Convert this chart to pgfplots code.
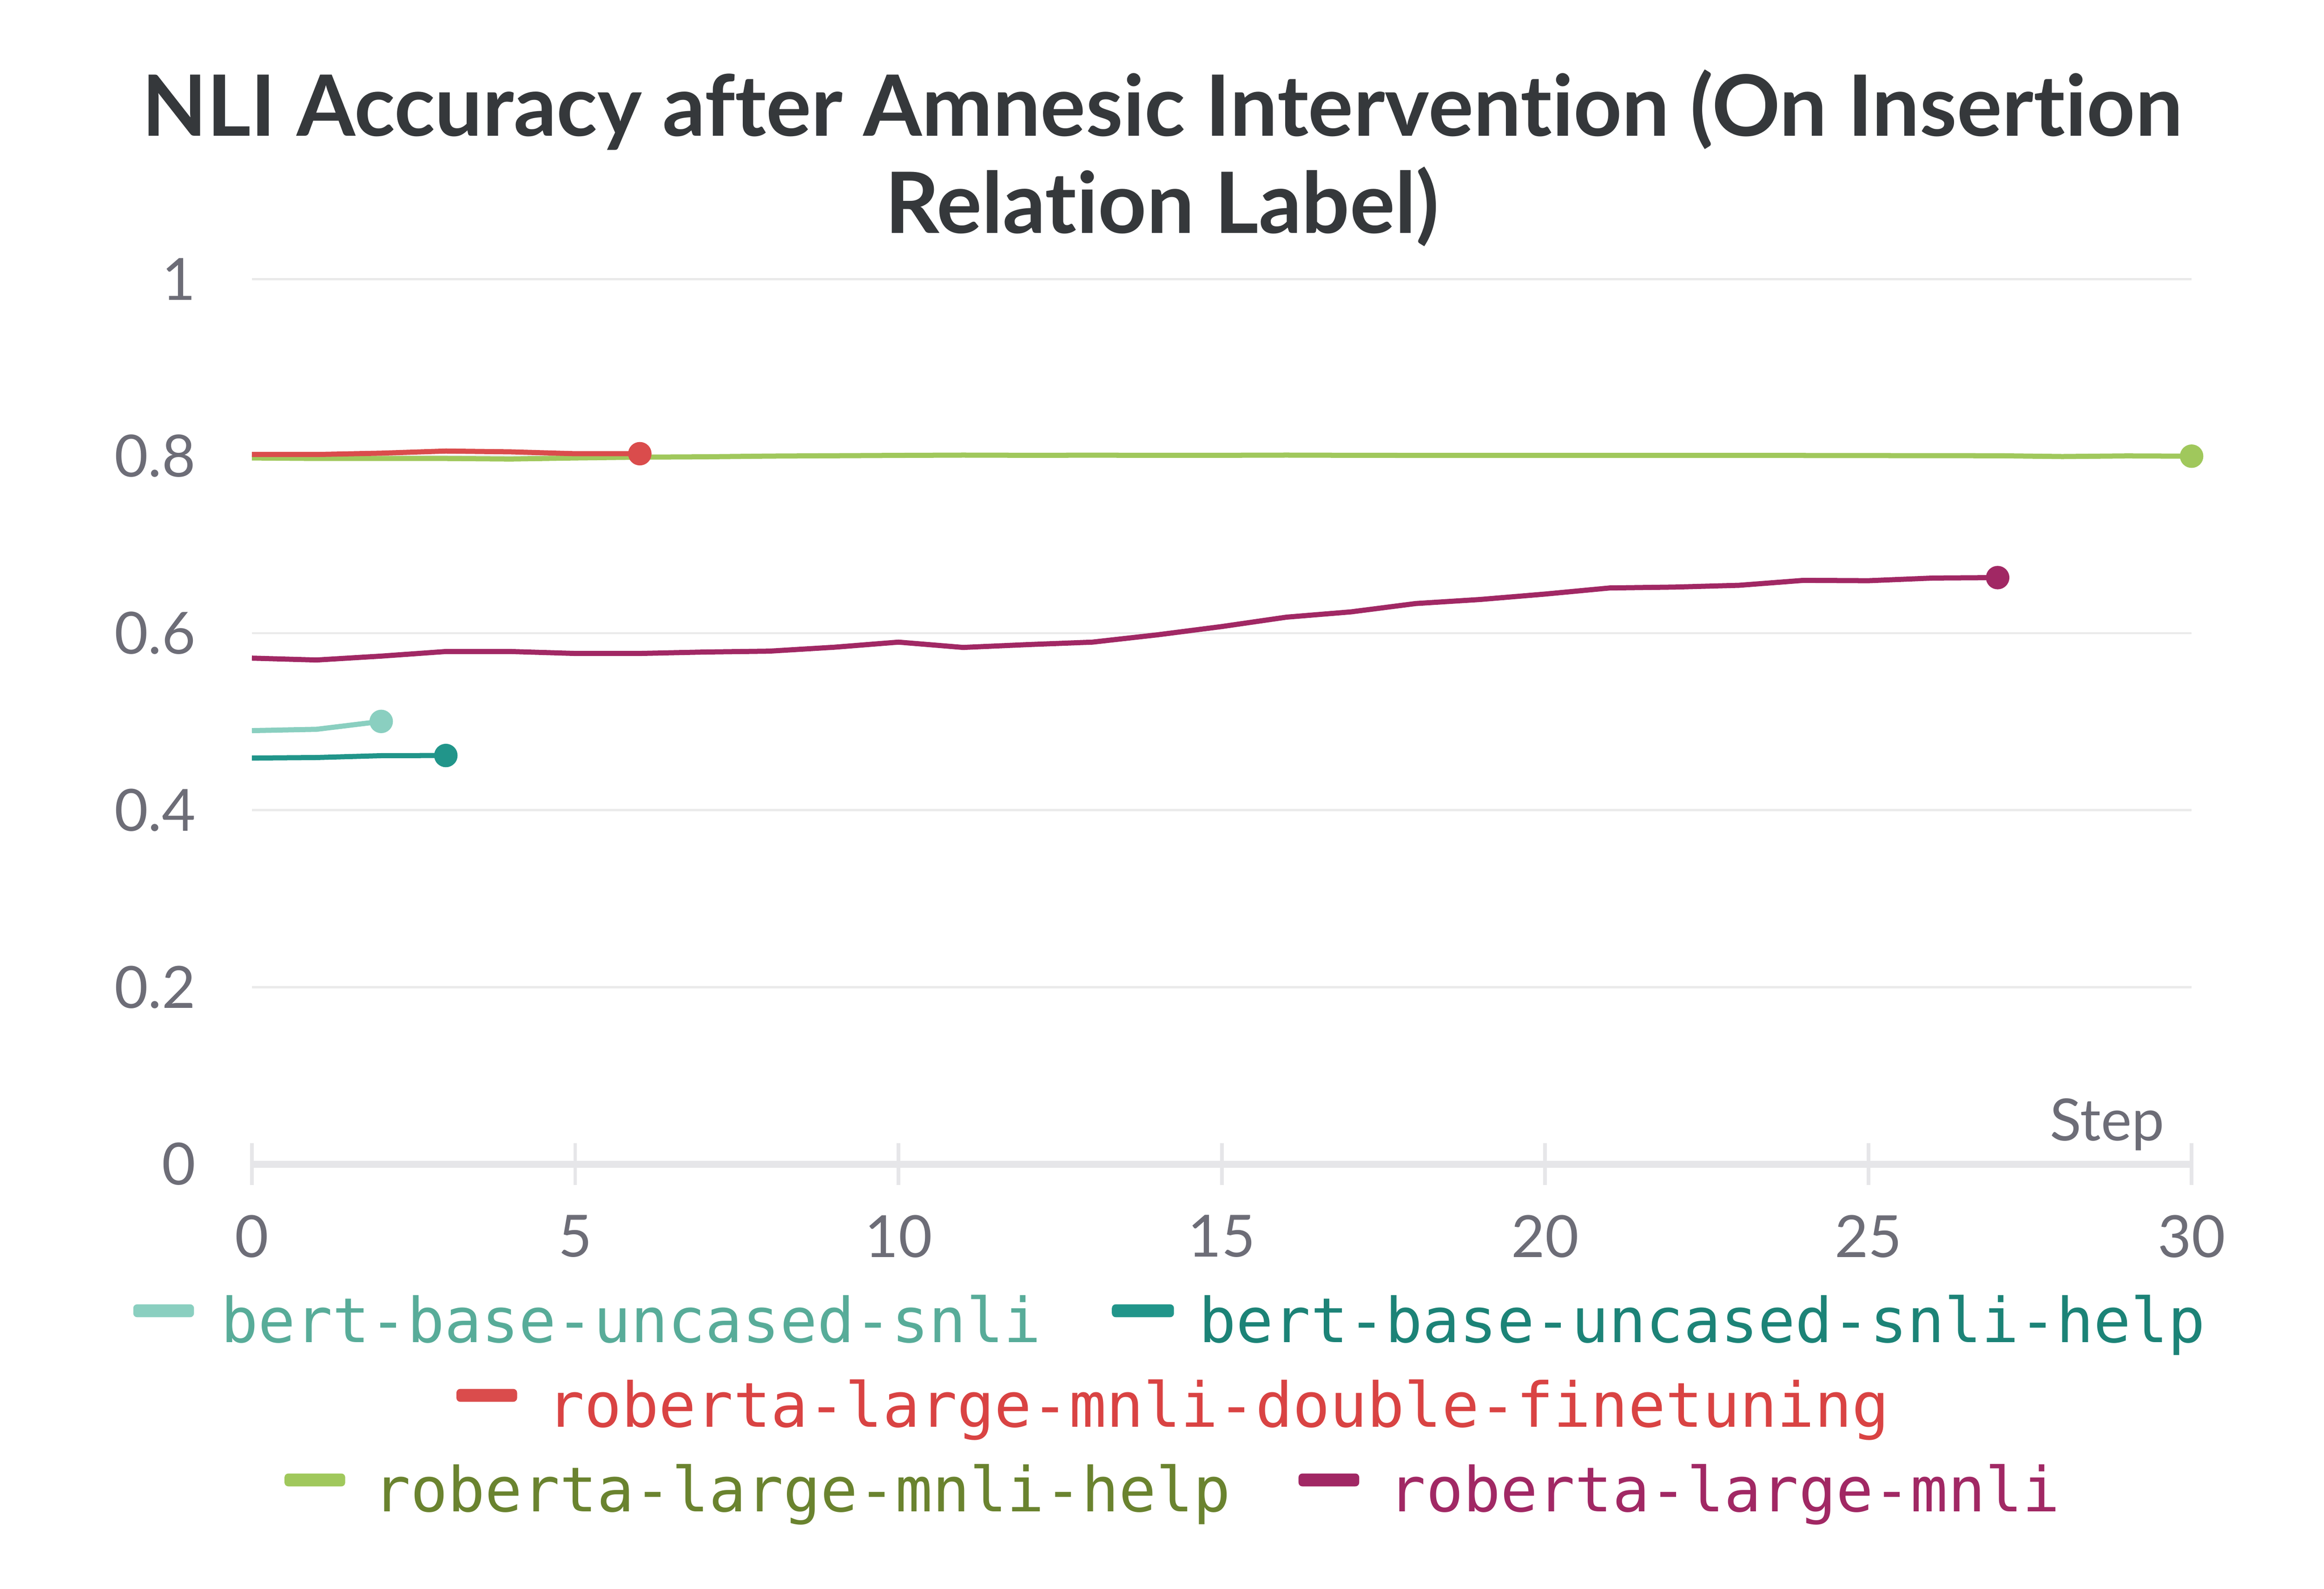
\documentclass[border=0pt]{standalone}
\usepackage{fontspec}
\setmainfont{Lato}[Ligatures=NoCommon]
\newfontfamily\legendfont{DejaVu Sans Mono}
\usepackage{pgfplots}
\pgfplotsset{compat=1.18}

\definecolor{titlegray}{HTML}{35383B}
\definecolor{tickgray}{HTML}{6D6D77}
\definecolor{axisgray}{HTML}{E6E6E9}
\definecolor{gridgray}{HTML}{EAEAEA}
\definecolor{snli}{HTML}{8ACFC0}
\definecolor{snlitext}{HTML}{58AC99}
\definecolor{snlihelp}{HTML}{21958A}
\definecolor{snlihelptext}{HTML}{1C8377}
\definecolor{dft}{HTML}{DA4C4C}
\definecolor{dfttext}{HTML}{D94343}
\definecolor{mnlihelp}{HTML}{A0C85C}
\definecolor{mnlihelptext}{HTML}{6A832F}
\definecolor{mnli}{HTML}{A12864}

\begin{document}
\begin{tikzpicture}
\useasboundingbox (0,0) rectangle (151.68mm,-103.68mm);

% title
\node[anchor=base, inner sep=0pt, text=titlegray, font=\fontsize{15.7}{19}\selectfont\bfseries]
  at (75.84mm,-8.88mm) {NLI Accuracy after Amnesic Intervention (On Insertion};
\node[anchor=base, inner sep=0pt, text=titlegray, font=\fontsize{15.7}{19}\selectfont\bfseries]
  at (75.84mm,-15.21mm) {Relation Label)};

\begin{axis}[
    at={(16.44mm,-75.96mm)}, anchor=south west,
    scale only axis,
    width=126.6mm, height=57.75mm,
    xmin=0, xmax=30, ymin=0, ymax=1,
    xtick={0,5,...,30},
    ytick={0,0.2,0.4,0.6,0.8,1},
    yticklabels={0,0.2,0.4,0.6,0.8,1},
    axis x line*=bottom,
    axis y line*=left,
    x axis line style={-, draw=axisgray, line width=1.3pt},
    y axis line style={draw=none},
    ymajorgrids=true,
    major grid style={draw=gridgray, line width=0.4pt},
    xtick align=center,
    major tick length=2.73mm,
    x tick style={draw=axisgray, line width=0.24mm},
    y tick style={draw=none},
    tick label style={font=\fontsize{10.8}{13}\selectfont, text=tickgray},
    /pgf/number format/assume math mode=true,
    xticklabel style={anchor=north, inner sep=0pt, yshift=-1.9mm},
    yticklabel style={anchor=east, inner sep=0pt, xshift=-3.6mm},
    xlabel={Step},
    xlabel style={at={(rel axis cs:1,0)}, anchor=base east, inner sep=0pt,
      xshift=-1.71mm, yshift=1.53mm, font=\fontsize{10.8}{13}\selectfont, text=tickgray},
    every axis plot/.append style={line width=0.95pt, mark size=1.7pt},
    clip=false,
]

\addplot[color=snli, mark=*, mark indices={3}] coordinates {
  (0,0.4898)(1,0.4913)(2,0.5002)
};

\addplot[color=snlihelp, mark=*, mark indices={4}] coordinates {
  (0,0.4588)(1,0.4594)(2,0.4615)(3,0.4617)
};

\addplot[color=mnlihelp, mark=*, mark indices={31}] coordinates {
  (0,0.7979)(1,0.7973)(2,0.7973)(3,0.7973)(4,0.7967)(5,0.7979)(6,0.7988)
  (7,0.7992)(8,0.8000)(9,0.8004)(10,0.8008)(11,0.8011)(12,0.8009)(13,0.8010)
  (14,0.8009)(15,0.8009)(16,0.8011)(17,0.8009)(18,0.8008)(19,0.8008)(20,0.8008)
  (21,0.8008)(22,0.8008)(23,0.8008)(24,0.8007)(25,0.8006)(26,0.8005)(27,0.8004)
  (28,0.7995)(29,0.8002)(30,0.7999)
};

\addplot[color=dft, mark=*, mark indices={7}] coordinates {
  (0,0.8018)(1,0.8018)(2,0.8033)(3,0.8057)(4,0.8048)(5,0.8027)(6,0.8027)
};

\addplot[color=mnli, mark=*, mark indices={28}] coordinates {
  (0,0.5717)(1,0.5696)(2,0.5740)(3,0.5792)(4,0.5792)(5,0.5770)(6,0.5770)
  (7,0.5786)(8,0.5796)(9,0.5840)(10,0.5898)(11,0.5838)(12,0.5870)(13,0.5898)
  (14,0.5980)(15,0.6074)(16,0.6180)(17,0.6240)(18,0.6334)(19,0.6380)(20,0.6441)
  (21,0.6510)(22,0.6520)(23,0.6540)(24,0.6596)(25,0.6592)(26,0.6622)(27,0.6627)
};

\end{axis}

% legend
\begin{scope}[every node/.style={anchor=base west, inner sep=0pt, font=\legendfont\fontsize{11.5}{14}\selectfont}]
\fill[snli, rounded corners=0.25mm] (8.70mm,-85.11mm) rectangle (12.66mm,-85.95mm);
\node[text=snlitext] at (14.34mm,-87.6mm) {bert-base-uncased-snli};
\fill[snlihelp, rounded corners=0.25mm] (72.57mm,-85.11mm) rectangle (76.62mm,-85.95mm);
\node[text=snlihelptext] at (78.18mm,-87.6mm) {bert-base-uncased-snli-help};

\fill[dft, rounded corners=0.25mm] (29.79mm,-90.63mm) rectangle (33.75mm,-91.47mm);
\node[text=dfttext] at (35.64mm,-93.12mm) {roberta-large-mnli-double-finetuning};

\fill[mnlihelp, rounded corners=0.25mm] (18.57mm,-96.15mm) rectangle (22.53mm,-96.99mm);
\node[text=mnlihelptext] at (24.30mm,-98.64mm) {roberta-large-mnli-help};
\fill[mnli, rounded corners=0.25mm] (84.75mm,-96.15mm) rectangle (88.71mm,-96.99mm);
\node[text=mnli] at (90.57mm,-98.64mm) {roberta-large-mnli};
\end{scope}

\end{tikzpicture}
\end{document}
